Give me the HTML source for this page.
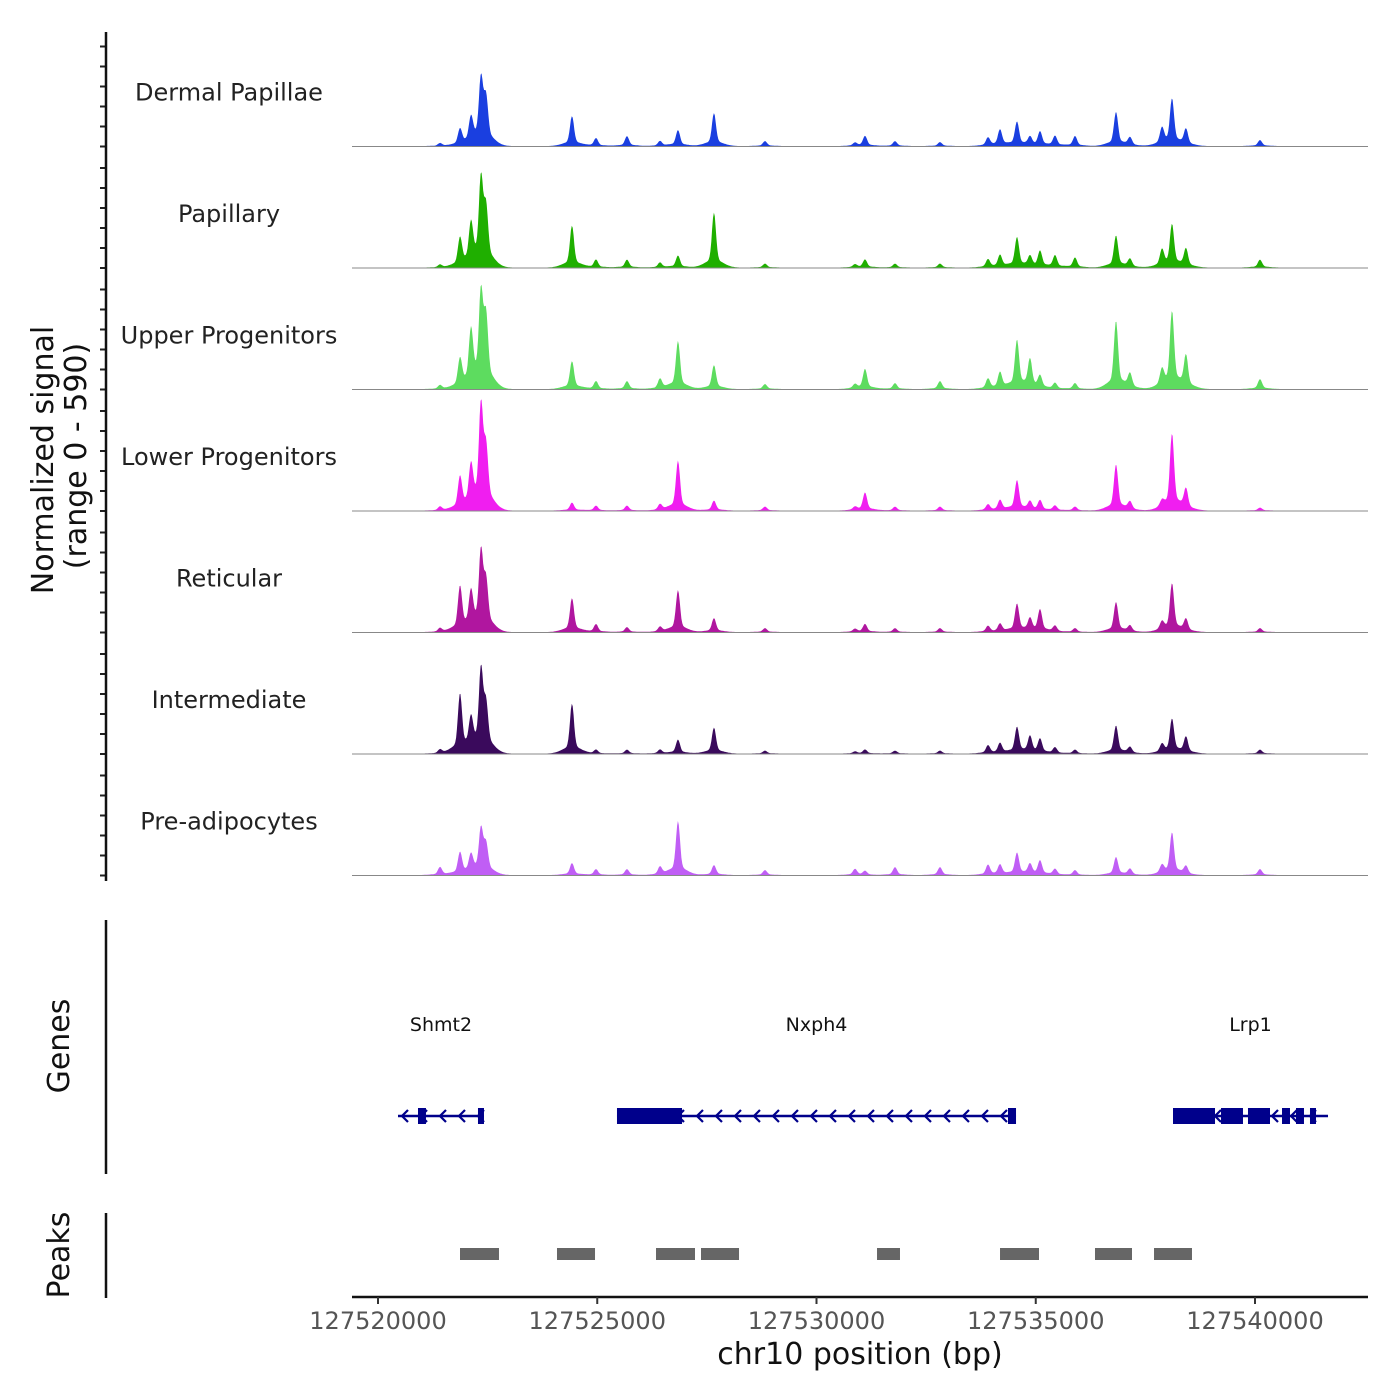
<!DOCTYPE html>
<html><head><meta charset="utf-8">
<style>
html,body{margin:0;padding:0;background:#fff;}
svg{display:block;font-family:"DejaVu Sans","Liberation Sans",sans-serif;}
</style></head>
<body>
<svg id="chart" width="1400" height="1400" viewBox="0 0 1400 1400" xmlns="http://www.w3.org/2000/svg">
<rect width="1400" height="1400" fill="#fff"/>
<g id="tracks"></g>
<g id="genes"></g>
<g id="peaks"></g>
<g id="axes"></g>
</svg>
<script>
const trackNames = ["Dermal Papillae","Papillary","Upper Progenitors","Lower Progenitors","Reticular","Intermediate","Pre-adipocytes"];
const trackColors = ["#1a3fe0","#1faf00","#5ddc5f","#f01ef0","#b0169f","#3a0a5c","#c05ef5"];
const peakPositions = [127521414,127521870,127522121,127522349,127522463,127524424,127524971,127525678,127526431,127526841,127527662,127528825,127530878,127531106,127531790,127532816,127533911,127534185,127534572,127534869,127535097,127535439,127535895,127536830,127537150,127537879,127538107,127538426,127540114];
const sigDP = [15,80,120,320,220,150,40,50,25,80,165,25,15,50,25,20,40,80,120,40,70,50,50,170,40,80,230,80,30];
const sigPap = [15,140,190,420,270,210,40,40,25,60,275,20,15,40,20,20,40,60,150,50,80,60,50,160,40,80,210,90,40];
const sigUpper = [20,140,260,450,330,140,40,40,50,240,120,25,20,100,30,40,50,80,240,140,60,30,30,340,70,80,380,160,50];
const sigLower = [20,160,190,500,280,40,25,25,30,250,50,20,15,90,20,20,30,50,150,40,50,25,20,230,40,30,380,100,15];
const sigRet = [20,220,170,380,230,170,40,25,25,210,70,20,15,40,20,20,30,40,140,60,110,30,20,150,30,40,240,60,20];
const sigInt = [20,290,140,400,220,250,20,20,20,70,130,15,10,20,15,15,40,50,130,80,70,30,20,140,30,40,170,80,20];
const sigPre = [40,110,85,220,140,60,30,30,40,270,50,25,30,20,40,40,50,50,110,50,70,30,25,90,30,40,210,40,30];
const signals = [sigDP,sigPap,sigUpper,sigLower,sigRet,sigInt,sigPre];
const signalStart = 127520500, signalEnd = 127541800, yMax = 590;
const xTicks = [127520000,127525000,127530000,127535000,127540000];
const genes = [
 {name:"Shmt2", start:127520456, end:127522417, exons:[[127520912,127521094],[127522280,127522417]]},
 {name:"Nxph4", start:127525450, end:127534550, exons:[[127525450,127526933],[127534367,127534550]]},
 {name:"Lrp1", start:127538130, end:127541665, exons:[[127538130,127539088],[127539225,127539726],[127539840,127540342],[127540616,127540798],[127540935,127541117],[127541254,127541391]]}
];
const peakRegions = [[127521870,127522759],[127524082,127524949],[127526340,127527229],[127527366,127528233],[127531380,127531904],[127534185,127535074],[127536351,127537195],[127537697,127538563]];

const NS="http://www.w3.org/2000/svg";
function mk(tag, attrs, parent){const e=document.createElementNS(NS,tag);for(const k in attrs)e.setAttribute(k,attrs[k]);parent.appendChild(e);return e;}
const xScale = bp => 378 + (bp-127520000)*0.04385;
const trackH = 121.5, firstBase = 146.5;
const yScale = (v,i) => firstBase + i*trackH - v/yMax*118;

const gT=document.getElementById('tracks');
signals.forEach((vals,i)=>{
  const base = firstBase+i*trackH;
  let d = `M${xScale(signalStart)},${base}`;
  for(let bp=signalStart; bp<=signalEnd; bp+=20){
    let v=2;
    peakPositions.forEach((p,k)=>{const dx=bp-p;v+=vals[k]*(Math.exp(-dx*dx/(2*45*45))*0.85+0.15*Math.exp(-dx*dx/(2*200*200)));});
    d+=` L${xScale(bp).toFixed(1)},${yScale(v,i).toFixed(1)}`;
  }
  d+=` L${xScale(signalEnd)},${base} Z`;
  const p=mk('path',{d:d,fill:trackColors[i]},gT);
  
  
  const bl=mk('line',{x1:352,x2:1368,y1:base,y2:base,stroke:'#888','stroke-width':1},gT);
  
  
  const t=mk('text',{x:229,y:base-46,'font-size':24,'text-anchor':'middle',fill:'#222'},gT);
  t.textContent=trackNames[i];
  
  
  for(let v=0; v<=500; v+=100){
    const y=yScale(v,i);
    const tk=mk('line',{x1:100,x2:106,y1:y,y2:y,stroke:'#222','stroke-width':2},gT);
    
    
  }
});

const gG=document.getElementById('genes');
genes.forEach(g=>{
  const y=1116;
  const l=mk('line',{x1:xScale(g.start),x2:xScale(g.end),y1:y,y2:y,stroke:'#00008b','stroke-width':2.5},gG);
  
  
  for(let x=xScale(g.start)+4; x<xScale(g.end)-4; x+=19){
    const c=mk('polyline',{points:`${x+6},${y-6} ${x},${y} ${x+6},${y+6}`,fill:'none',stroke:'#00008b','stroke-width':2.2},gG);
    
    
  }
  g.exons.forEach(e=>{
    const r=mk('rect',{x:xScale(e[0]),y:y-8,width:Math.max(3,xScale(e[1])-xScale(e[0])),height:16,fill:'#00008b'},gG);
    
    
  });
  const t=mk('text',{x:(xScale(g.start)+xScale(g.end))/2,y:1031,'font-size':19,'text-anchor':'middle',fill:'#111'},gG);
  t.textContent=g.name;
  
  
});

const gP=document.getElementById('peaks');
peakRegions.forEach(p=>{
  const r=mk('rect',{x:xScale(p[0]),y:1248,width:xScale(p[1])-xScale(p[0]),height:12,fill:'#666'},gP);
  
  
});

const gA=document.getElementById('axes');
[[32,881],[920,1174],[1213,1298]].forEach((s,i)=>{
  const l=mk('line',{x1:106,x2:106,y1:s[0],y2:s[1],stroke:'#111','stroke-width':2.5},gA);
  
  
});
const xl=mk('line',{x1:352,x2:1368,y1:1297,y2:1297,stroke:'#111','stroke-width':2.5},gA);


xTicks.forEach(v=>{
  const x=xScale(v);
  const tk=mk('line',{x1:x,x2:x,y1:1297,y2:1304,stroke:'#333','stroke-width':2},gA);
  
  
  const t=mk('text',{x:x,y:1329,'font-size':24,'text-anchor':'middle',fill:'#555'},gA);
  t.textContent=String(v);
  
  
});
const xt=mk('text',{x:860,y:1364,'font-size':30,'text-anchor':'middle',fill:'#111'},gA);
xt.textContent='chr10 position (bp)';


const yt=mk('text',{transform:'translate(53,460) rotate(-90)','font-size':30,'text-anchor':'middle',fill:'#111'},gA);
yt.textContent='Normalized signal';


const yt2=mk('text',{transform:'translate(86,456) rotate(-90)','font-size':30,'text-anchor':'middle',fill:'#111'},gA);
yt2.textContent='(range 0 - 590)';


const gl=mk('text',{transform:'translate(69,1046) rotate(-90)','font-size':30,'text-anchor':'middle',fill:'#111'},gA);
gl.textContent='Genes';


const pl=mk('text',{transform:'translate(69,1255) rotate(-90)','font-size':30,'text-anchor':'middle',fill:'#111'},gA);
pl.textContent='Peaks';


</script>
</body></html>
